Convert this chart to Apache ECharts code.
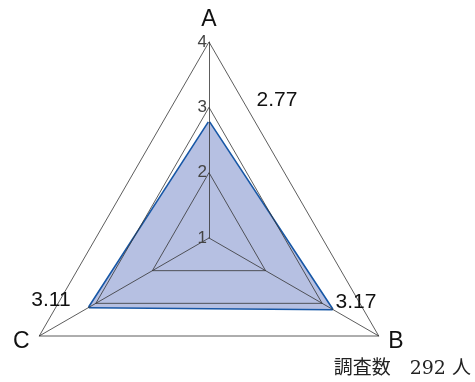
<!DOCTYPE html>
<html>
<head>
<meta charset="utf-8">
<script src="https://cdn.jsdelivr.net/npm/echarts@6/dist/echarts.min.js"></script>
<style>
  html, body { margin: 0; padding: 0; background: #fff; }
  #main { width: 475px; height: 382px; }
</style>
</head>
<body>
<div id="main"></div>
<script>
// indicator order goes counterclockwise from the top: A, C, B
const indicatorNames = ["A", "C", "B"];
const indicatorValues = [2.77, 3.11, 3.17];
const axisMin = 1;
const axisMax = 4;
const surveyText = "調査数　292 人";

const chart = echarts.init(document.getElementById("main"));

const cx = 209, cy = 238, R = 196;
// value label spots (text only, not marks)
const valueLabelPos = [
  [277, 100],
  [51, 300],
  [356, 302],
];

const option = {
  animation: false,
  radar: {
    center: [cx, cy],
    radius: R,
    startAngle: 90,
    splitNumber: 3,
    shape: "polygon",
    z: 3,
    axisName: {
      color: "#111",
      fontSize: 23,
      fontWeight: 500,
      fontFamily: "Liberation Sans, Arial, sans-serif",
    },
    nameGap: 11,
    axisLine: { lineStyle: { color: "#333", width: 0.8 } },
    splitLine: { lineStyle: { color: "#333", width: 0.8 } },
    splitArea: { show: false },
    axisLabel: { show: false },
    indicator: indicatorNames.map((n, i) => ({
      name: n,
      min: axisMin,
      max: axisMax,
      axisLabel:
        i === 0
          ? {
              show: true,
              color: "#444",
              fontSize: 17,
              fontFamily: "Liberation Sans, Arial, sans-serif",
              margin: 2,
            }
          : { show: false },
    })),
  },
  series: [
    {
      type: "radar",
      z: 1,
      symbol: "none",
      lineStyle: { color: "#1757a6", width: 3.2 },
      areaStyle: { color: "#b6c0e2", opacity: 1 },
      data: [{ value: indicatorValues }],
    },
  ],
  graphic: indicatorValues
    .map((v, i) => ({
      type: "text",
      x: valueLabelPos[i][0],
      y: valueLabelPos[i][1],
      z: 10,
      style: {
        text: v.toFixed(2),
        fill: "#111",
        font: "21px Liberation Sans, Arial, sans-serif",
        align: "center",
        verticalAlign: "middle",
      },
    }))
    .concat([
      {
        type: "text",
        right: 4,
        bottom: 3,
        style: {
          text: surveyText,
          fill: "#222",
          font: "19px DejaVu Serif, Noto Sans CJK JP, serif",
        },
      },
    ]),
};
chart.setOption(option);
</script>
</body>
</html>
